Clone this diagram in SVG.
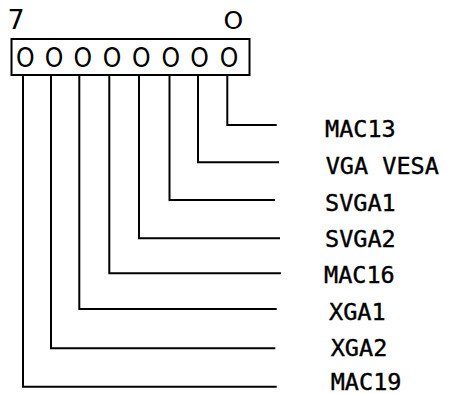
<svg xmlns="http://www.w3.org/2000/svg" width="449" height="394" viewBox="0 0 449 394">
<style>
.ln{fill:none;stroke:#000;stroke-width:2}
.bit{font-family:"DejaVu Sans",sans-serif;font-size:27px;fill:#000;text-anchor:middle}
.hd{font-family:"DejaVu Sans",sans-serif;fill:#000}
.lb{font-family:"DejaVu Sans Mono","Liberation Mono",monospace;font-size:23.5px;fill:#000;stroke:#000;stroke-width:0.4}
</style>
<rect width="449" height="394" fill="#fff"/>
<g id="header">
<text class="hd" x="7.5" y="28.7" style="font-size:27px">7</text>
<text class="hd" x="233.3" y="29" style="font-size:25px;text-anchor:middle">O</text>
</g>
<g id="register">
<rect class="ln" x="11.5" y="39" width="238" height="36"/>
<text class="bit" x="25.3" y="67" textLength="18.6" lengthAdjust="spacingAndGlyphs">O</text>
<text class="bit" x="54" y="67" textLength="18.6" lengthAdjust="spacingAndGlyphs">O</text>
<text class="bit" x="82.8" y="67" textLength="18.6" lengthAdjust="spacingAndGlyphs">O</text>
<text class="bit" x="112" y="67" textLength="18.6" lengthAdjust="spacingAndGlyphs">O</text>
<text class="bit" x="141.2" y="67" textLength="18.6" lengthAdjust="spacingAndGlyphs">O</text>
<text class="bit" x="170.7" y="67" textLength="18.6" lengthAdjust="spacingAndGlyphs">O</text>
<text class="bit" x="199.5" y="67" textLength="18.6" lengthAdjust="spacingAndGlyphs">O</text>
<text class="bit" x="229" y="67" textLength="18.6" lengthAdjust="spacingAndGlyphs">O</text>
</g>
<g id="connectors">
<polyline class="ln" points="227.3,76 227.3,125 276.7,125"/>
<polyline class="ln" points="198,76 198,162.3 279,162.3"/>
<polyline class="ln" points="169.5,76 169.5,200 275,200"/>
<polyline class="ln" points="139,76 139,238.3 280,238.3"/>
<polyline class="ln" points="109.3,76 109.3,273.3 281,273.3"/>
<polyline class="ln" points="79.3,76 79.3,309 276.7,309"/>
<polyline class="ln" points="51,76 51,348.3 275.3,348.3"/>
<polyline class="ln" points="23,76 23,386.7 276.7,386.7"/>
</g>
<g id="label-mac13"><text class="lb" x="325" y="137">MAC13</text></g>
<g id="label-vga-vesa"><text class="lb" x="325.7" y="174">VGA VESA</text></g>
<g id="label-svga1"><text class="lb" x="325" y="210.5">SVGA1</text></g>
<g id="label-svga2"><text class="lb" x="325" y="247">SVGA2</text></g>
<g id="label-mac16"><text class="lb" x="324" y="283.3">MAC16</text></g>
<g id="label-xga1"><text class="lb" x="329" y="319.5">XGA1</text></g>
<g id="label-xga2"><text class="lb" x="330.7" y="356">XGA2</text></g>
<g id="label-mac19"><text class="lb" x="330.7" y="389.5">MAC19</text></g>
</svg>
